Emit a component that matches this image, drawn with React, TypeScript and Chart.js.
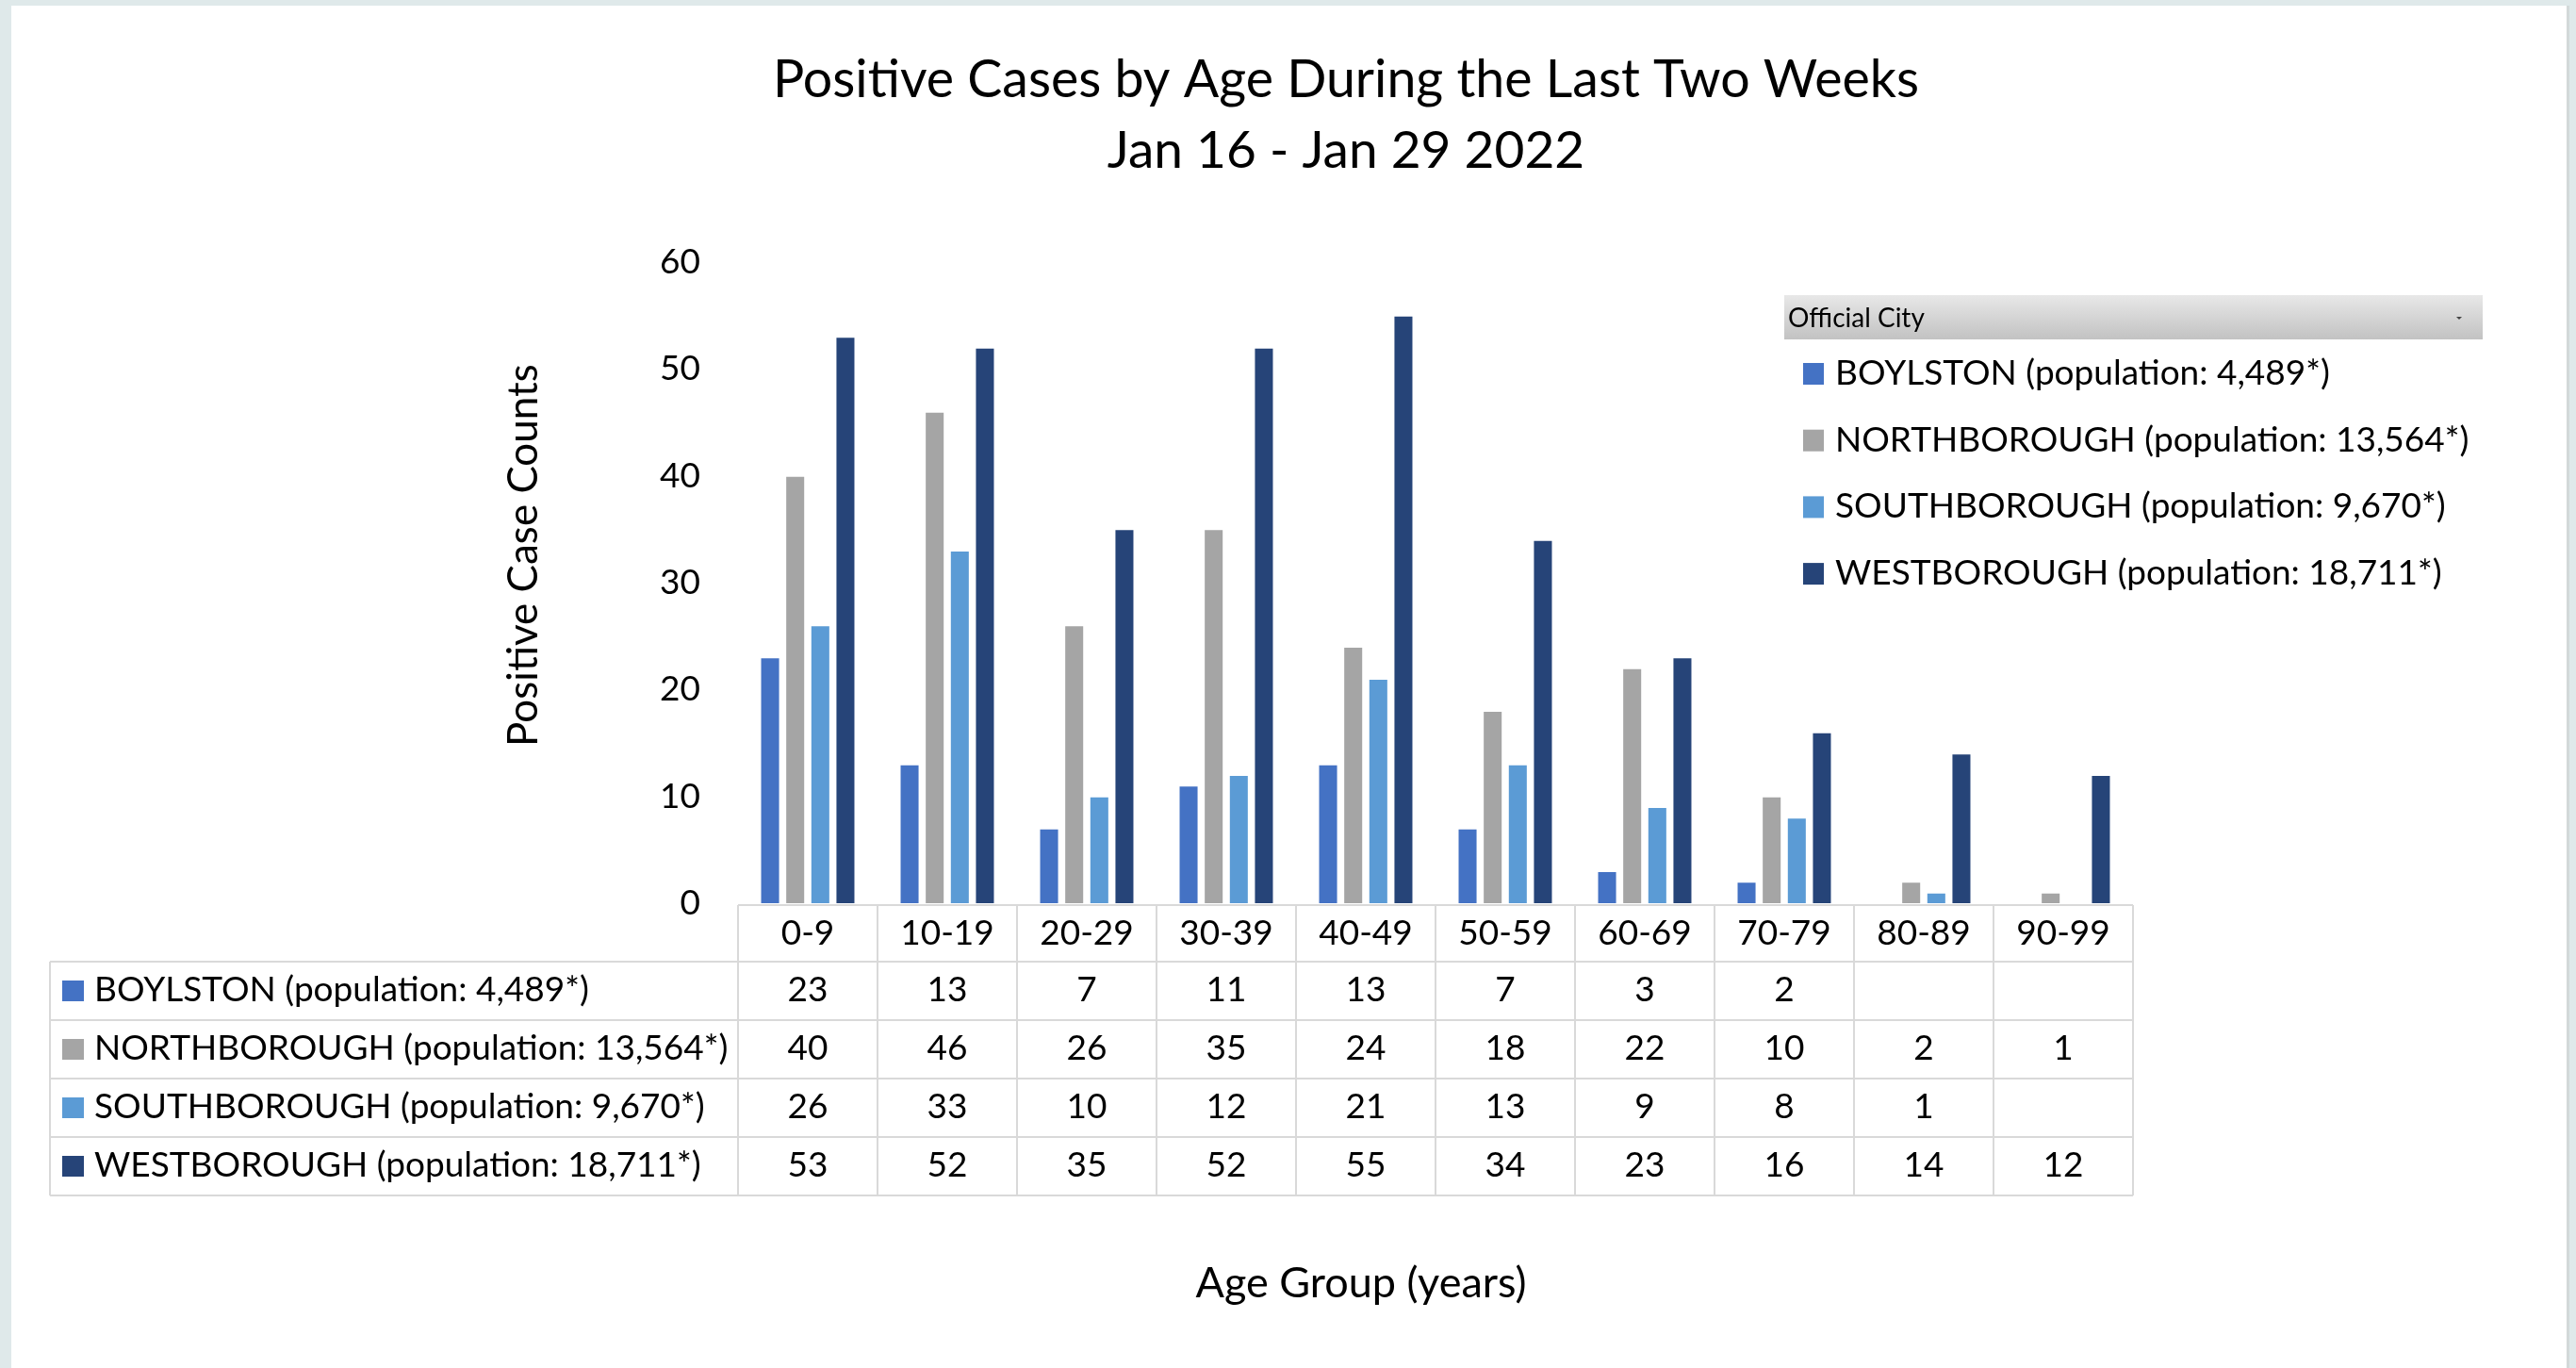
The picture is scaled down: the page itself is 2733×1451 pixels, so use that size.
import React, { useEffect, useRef } from "react";
import { Chart, registerables } from "chart.js";

Chart.register(...registerables);

const categories = ["0-9", "10-19", "20-29", "30-39", "40-49", "50-59", "60-69", "70-79", "80-89", "90-99"];
const seriesNames = [
  "BOYLSTON (population: 4,489*)",
  "NORTHBOROUGH (population: 13,564*)",
  "SOUTHBOROUGH (population: 9,670*)",
  "WESTBOROUGH (population: 18,711*)",
];
const boylston = [23, 13, 7, 11, 13, 7, 3, 2, null, null];
const northborough = [40, 46, 26, 35, 24, 18, 22, 10, 2, 1];
const southborough = [26, 33, 10, 12, 21, 13, 9, 8, 1, null];
const westborough = [53, 52, 35, 52, 55, 34, 23, 16, 14, 12];
const seriesColors = ["#4472C4", "#A5A5A5", "#5B9BD5", "#264478"];
const yTicks = [0, 10, 20, 30, 40, 50, 60];
const titleLines = ["Positive Cases by Age During the Last Two Weeks", "Jan 16 - Jan 29 2022"];
const yTitle = "Positive Case Counts";
const xTitle = "Age Group (years)";
const legendHeader = "Official City";

const W = 2733;
const H = 1451;
const FONT = "Lato, 'Open Sans', sans-serif";

const customPlugin = {
  id: "customDecor",
  beforeDraw(chart: any) {
    const ctx = chart.ctx;
    ctx.save();
    ctx.fillStyle = "#dfe9ea";
    ctx.fillRect(0, 0, W, H);
    ctx.fillStyle = "#ffffff";
    ctx.fillRect(12, 6, 2711, H - 6);
    ctx.fillStyle = "#d3d9d9";
    ctx.fillRect(2723, 6, 3, H - 6);
    ctx.restore();
  },
  afterDraw(chart: any) {
    const ctx = chart.ctx;
    const xs = chart.scales.x;
    const area = chart.chartArea;
    const datasets = chart.data.datasets;
    const labels = chart.data.labels as string[];
    ctx.save();
    ctx.fillStyle = "#000";
    // Title
    ctx.textAlign = "center";
    ctx.textBaseline = "alphabetic";
    ctx.font = `55.5px ${FONT}`;
    ctx.fillText(titleLines[0], 1428, 103);
    ctx.font = `55px ${FONT}`;
    ctx.fillText(titleLines[1], 1428, 178);

    // Y title
    ctx.save();
    ctx.translate(570, 589);
    ctx.rotate(-Math.PI / 2);
    ctx.font = `44px ${FONT}`;
    ctx.textAlign = "center";
    ctx.fillText(yTitle, 0, 0);
    ctx.restore();

    // X title
    ctx.font = `45px ${FONT}`;
    ctx.textAlign = "center";
    ctx.fillText(xTitle, 1444, 1376);

    // Data table
    const n = labels.length;
    const colW = (xs.right - xs.left) / n;
    const headTop = area.bottom + 2;
    const headBot = headTop + 60;
    const rowH = 62;
    const tableLeft = 53;
    const tableRight = xs.right;
    const tableBottom = headBot + rowH * datasets.length;
    ctx.strokeStyle = "#d9d9d9";
    ctx.lineWidth = 2;
    ctx.beginPath();
    ctx.moveTo(xs.left, headTop);
    ctx.lineTo(tableRight, headTop);
    for (let r = 0; r <= datasets.length; r++) {
      const y = headBot + r * rowH;
      ctx.moveTo(tableLeft, y);
      ctx.lineTo(tableRight, y);
    }
    ctx.moveTo(tableLeft, headBot);
    ctx.lineTo(tableLeft, tableBottom);
    for (let i = 0; i <= n; i++) {
      const x = xs.left + i * colW;
      ctx.moveTo(x, headTop);
      ctx.lineTo(x, tableBottom);
    }
    ctx.stroke();

    ctx.fillStyle = "#000";
    ctx.font = `37px ${FONT}`;
    ctx.textAlign = "center";
    for (let i = 0; i < n; i++) {
      const cx = xs.getPixelForValue(i);
      ctx.fillText(labels[i], cx, headTop + 42);
      datasets.forEach((ds: any, r: number) => {
        const v = ds.data[i];
        if (v !== null && v !== undefined) {
          ctx.fillText(String(v), cx, headBot + r * rowH + 42);
        }
      });
    }
    ctx.textAlign = "left";
    datasets.forEach((ds: any, r: number) => {
      const base = headBot + r * rowH + 42;
      ctx.fillStyle = ds.backgroundColor;
      ctx.fillRect(66, base - 22, 23, 22);
      ctx.fillStyle = "#000";
      ctx.fillText(ds.label, 100, base);
    });

    // Legend box
    const lx = 1893, ly = 313, lw = 741, lh = 47;
    const grad = ctx.createLinearGradient(0, ly, 0, ly + lh);
    grad.addColorStop(0, "#e8e8e8");
    grad.addColorStop(1, "#c2c2c2");
    ctx.fillStyle = grad;
    ctx.fillRect(lx, ly, lw, lh);
    ctx.fillStyle = "#000";
    ctx.font = `28px ${FONT}`;
    ctx.textAlign = "left";
    ctx.fillText(legendHeader, 1897, 347);
    ctx.fillStyle = "#444";
    ctx.beginPath();
    ctx.moveTo(2606, 336);
    ctx.lineTo(2612, 336);
    ctx.lineTo(2609, 339);
    ctx.closePath();
    ctx.fill();
    ctx.font = `37px ${FONT}`;
    datasets.forEach((ds: any, r: number) => {
      const base = 408 + r * 70.7;
      ctx.fillStyle = ds.backgroundColor;
      ctx.fillRect(1913, base - 23, 22, 23);
      ctx.fillStyle = "#000";
      ctx.fillText(ds.label, 1947, base);
    });
    ctx.restore();
  },
};

export default function App() {
  const canvasRef = useRef<HTMLCanvasElement | null>(null);
  useEffect(() => {
    document.body.style.margin = "0";
    const canvas = canvasRef.current;
    if (!canvas) return;
    const seriesData = [boylston, northborough, southborough, westborough];
    const chart = new Chart(canvas, {
      type: "bar",
      data: {
        labels: categories,
        datasets: seriesData.map((d, i) => ({
          label: seriesNames[i],
          data: d,
          backgroundColor: seriesColors[i],
          borderColor: "rgba(255,255,255,0.45)",
          borderWidth: 1,
          categoryPercentage: 0.72,
          barPercentage: 0.79,
        })),
      },
      options: {
        animation: false,
        responsive: false,
        devicePixelRatio: 1,
        layout: { padding: { left: 0, right: W - 2263, top: 278, bottom: H - 958 } },
        plugins: { legend: { display: false }, title: { display: false }, tooltip: { enabled: false } },
        scales: {
          x: { display: false },
          y: {
            min: yTicks[0],
            max: yTicks[yTicks.length - 1],
            afterFit: (s: any) => { s.width = 783; },
            afterBuildTicks: (s: any) => { s.ticks = yTicks.map((v) => ({ value: v })); },
            grid: { display: false, drawTicks: false },
            border: { display: false },
            ticks: { padding: 40, color: "#000", font: { family: FONT, size: 37 } },
          },
        },
      },
      plugins: [customPlugin],
    });
    return () => chart.destroy();
  }, []);
  return (
    <div style={{ position: "fixed", left: 0, top: 0, width: W, height: H }}>
      <canvas ref={canvasRef} width={W} height={H} style={{ width: W, height: H, display: "block" }} />
    </div>
  );
}
